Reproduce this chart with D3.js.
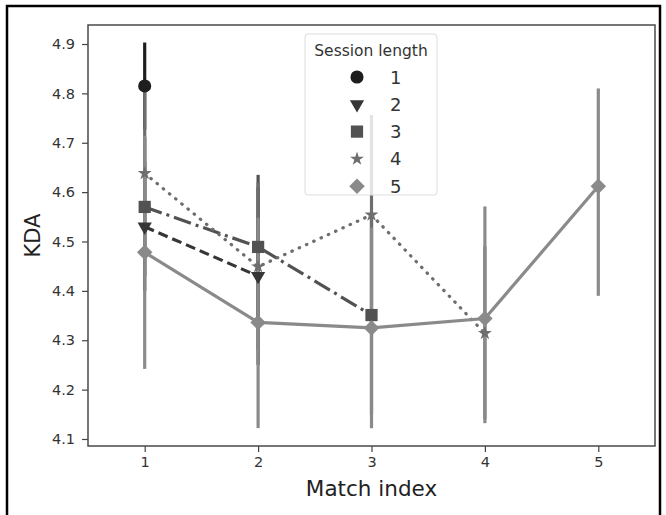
<!DOCTYPE html>
<html><head><meta charset="utf-8">
<script src="https://cdn.jsdelivr.net/npm/d3@7"></script>
<style>html,body{margin:0;padding:0;background:#fff;} .tk text{font-size:14.5px;font-family:"DejaVu Sans",sans-serif;fill:#333;}</style>
</head><body>
<script>
// ---- data ----
const matchIndex = [1, 2, 3, 4, 5];
const sessionLengths = ["1", "2", "3", "4", "5"];
const yTicks = [4.1, 4.2, 4.3, 4.4, 4.5, 4.6, 4.7, 4.8, 4.9];
// mean KDA per match index for each session length
const kda1 = [4.815];
const kda2 = [4.530, 4.430];
const kda3 = [4.570, 4.489, 4.351];
const kda4 = [4.638, 4.449, 4.554, 4.314];
const kda5 = [4.478, 4.336, 4.325, 4.344, 4.612];
// error bar extents [low, high]
const ci1 = [[4.727, 4.903]];
const ci2 = [[4.40, 4.66], [4.25, 4.61]];
const ci3 = [[4.43, 4.71], [4.343, 4.635], [4.15, 4.55]];
const ci4 = [[4.47, 4.81], [4.28, 4.62], [4.354, 4.756], [4.14, 4.49]];
const ci5 = [[4.242, 4.714], [4.122, 4.548], [4.122, 4.528], [4.132, 4.571], [4.390, 4.810]];

const seriesMeans = [kda1, kda2, kda3, kda4, kda5];
const seriesCI = [ci1, ci2, ci3, ci4, ci5];
const colors = ["#1e1e1e", "#363636", "#525252", "#6e6e6e", "#8a8a8a"];
const dashes = [null, "10,5", "18,5,3,5", "0.5,7.5", null];
const markers = ["circle", "tdown", "square", "star", "diamond"];

const W = 666, H = 515;
const margin = {left: 88, right: 11, top: 25, bottom: 69};
const svg = d3.select("body").append("svg").attr("width", W).attr("height", H)
  .style("font-family", "DejaVu Sans, sans-serif");

// outer frame
svg.append("rect").attr("x", 7).attr("y", 6).attr("width", 653).attr("height", 520)
  .attr("fill", "none").attr("stroke", "#000").attr("stroke-width", 2.5);

const x = d3.scalePoint().domain(matchIndex).range([margin.left, W - margin.right]).padding(0.5);
const y = d3.scaleLinear().domain([4.0858, 4.9385]).range([H - margin.bottom, margin.top]);

// axes
const gx = svg.append("g").attr("class", "tk").attr("transform", `translate(0,${H - margin.bottom})`)
  .call(d3.axisBottom(x).tickSize(6).tickPadding(5));
const gy = svg.append("g").attr("class", "tk").attr("transform", `translate(${margin.left},0)`)
  .call(d3.axisLeft(y).tickValues(yTicks).tickFormat(d3.format(".1f")).tickSize(6).tickPadding(7));
[gx, gy].forEach(g => {
  g.attr("font-size", 14.5).attr("font-family", "DejaVu Sans, sans-serif");
  g.select(".domain").remove();
  g.selectAll("line").attr("stroke", "#444").attr("stroke-width", 1.2);
});
svg.append("rect").attr("x", margin.left).attr("y", margin.top)
  .attr("width", W - margin.left - margin.right).attr("height", H - margin.top - margin.bottom)
  .attr("fill", "none").attr("stroke", "#4a4a4a").attr("stroke-width", 1.5);

svg.append("text").attr("x", (margin.left + W - margin.right) / 2).attr("y", 496)
  .attr("text-anchor", "middle").attr("fill", "#222").style("font-size", "21.5px").text("Match index");
svg.append("text").attr("transform", `translate(40,${(margin.top + H - margin.bottom) / 2}) rotate(-90)`)
  .attr("text-anchor", "middle").attr("fill", "#222").style("font-size", "21px").text("KDA");

function symbolPath(kind) {
  switch (kind) {
    case "circle": return {d: d3.symbol(d3.symbolCircle, 135)(), rot: 0};
    case "tdown": return {d: d3.symbol(d3.symbolTriangle, 88)(), rot: 180};
    case "square": return {d: d3.symbol(d3.symbolSquare, 150)(), rot: 0};
    case "star": return {d: d3.symbol(d3.symbolStar, 60)(), rot: 0};
    case "diamond": return {d: d3.symbol(d3.symbolSquare, 120)(), rot: 45};
  }
}

const plot = svg.append("g");
seriesMeans.forEach((vals, i) => {
  const pts = vals.map((v, j) => ({x: matchIndex[j], v}));
  if (pts.length > 1) {
    const p = plot.append("path").datum(pts)
      .attr("d", d3.line().x(d => x(d.x)).y(d => y(d.v)))
      .attr("fill", "none").attr("stroke", colors[i]).attr("stroke-width", 3.2);
    if (dashes[i]) p.attr("stroke-dasharray", dashes[i]);
    if (i === 3) p.attr("stroke-linecap", "round");
  }
  plot.selectAll(null).data(seriesCI[i]).enter().append("line")
    .attr("x1", (d, j) => x(matchIndex[j])).attr("x2", (d, j) => x(matchIndex[j]))
    .attr("y1", d => y(d[0])).attr("y2", d => y(d[1]))
    .attr("stroke", colors[i]).attr("stroke-width", 3.2);
});
seriesMeans.forEach((vals, i) => {
  const sp = symbolPath(markers[i]);
  plot.selectAll(null).data(vals).enter().append("path")
    .attr("d", sp.d)
    .attr("transform", (v, j) => `translate(${x(matchIndex[j])},${y(v)}) rotate(${sp.rot})`)
    .attr("fill", colors[i]);
});

// legend
const lg = svg.append("g");
lg.append("rect").attr("x", 305).attr("y", 34).attr("width", 132).attr("height", 161).attr("rx", 3)
  .attr("fill", "#fff").attr("fill-opacity", 0.8).attr("stroke", "#ddd").attr("stroke-width", 1);
lg.append("text").attr("x", 371).attr("y", 56).attr("text-anchor", "middle").attr("fill", "#333")
  .style("font-size", "15.5px").text("Session length");
sessionLengths.forEach((s, i) => {
  const cy = 77 + i * 27.3;
  const sp = symbolPath(markers[i]);
  lg.append("path").attr("d", sp.d).attr("transform", `translate(357,${cy}) rotate(${sp.rot})`)
    .attr("fill", colors[i]);
  lg.append("text").attr("x", 390).attr("y", cy + 6.5).attr("fill", "#333").style("font-size", "18px").text(s);
});
</script>
</body></html>
